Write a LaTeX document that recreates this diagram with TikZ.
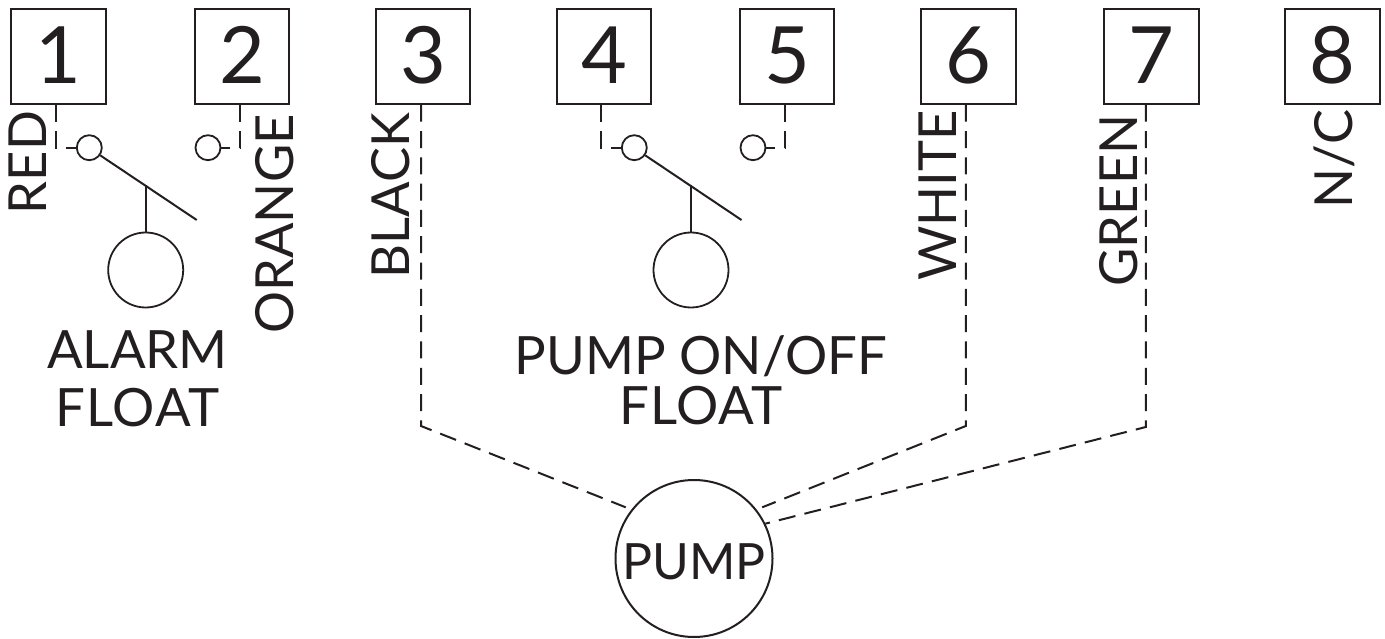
\documentclass[tikz,border=0pt]{standalone}
\usepackage{fontspec}
\setmainfont{Lato}
\definecolor{ink}{HTML}{231F20}
\tikzset{
 x=1pt,y=-1pt,
 every node/.style={text=ink},
 termbox/.style={draw=ink,line width=2pt,minimum size=94.5pt,inner sep=0pt,text depth=3pt,font=\fontsize{79}{79}\selectfont},
 wirelabel/.style={rotate=90,font=\fontsize{52.5}{52.5}\selectfont,inner sep=0pt},
 title/.style={font=\fontsize{52.8}{58}\selectfont,inner sep=0pt},
 contact/.style={circle,draw=ink,line width=1.8pt,minimum size=25pt,inner sep=0pt},
 floatball/.style={circle,draw=ink,line width=1.8pt,minimum size=75pt,inner sep=0pt},
 wire/.style={draw=ink,line width=2pt,dash pattern=on 17pt off 9.3pt},
 solidline/.style={draw=ink,line width=2pt},
}
\begin{document}
\begin{tikzpicture}
\useasboundingbox (0,0) rectangle (1385,639);
\node[termbox] (t1) at (58.7,56.5) {1};
\node[termbox] (t2) at (242,56.5) {2};
\node[termbox] (t3) at (423,56.5) {3};
\node[termbox] (t4) at (604.2,56.5) {4};
\node[termbox] (t5) at (787,56.5) {5};
\node[termbox] (t6) at (968.3,56.5) {6};
\node[termbox] (t7) at (1151.6,56.5) {7};
\node[termbox] (t8) at (1332.5,56.5) {8};
\node[wirelabel] (lred) at (27.5,162.5) {RED};
\node[wirelabel] (lor) at (274.5,224) {ORANGE};
\node[wirelabel] (lbl) at (391,195.5) {BLACK};
\node[wirelabel] (lwh) at (938,195.5) {WHITE};
\node[wirelabel] (lgr) at (1118.5,200.5) {GREEN};
\node[wirelabel] (lnc) at (1334,159) {N/C};
\node[contact] (c1) at (89.3,147.7) {};
\node[contact] (c2) at (208,147.7) {};
\node[contact] (c4) at (634.3,147.7) {};
\node[contact] (c5) at (753,147.7) {};
\node[floatball] (f1) at (145.7,270) {};
\node[floatball] (f2) at (691,270) {};
\coordinate (b1) at (196.7,220);
\coordinate (m1) at (145.7,185);
\coordinate (b2) at (741.5,220);
\coordinate (m2) at (691,185);
\draw[solidline] (c1.-35)--(b1);
\draw[solidline] (m1)--(f1.north);
\draw[solidline] (c4.-35)--(b2);
\draw[solidline] (m2)--(f2.north);
\node[title,align=center] (tf1) at (137.5,379) {ALARM\\{\addfontfeature{LetterSpace=1.8}FLOAT}};
\node[title,align=center] (tf2) at (701,380) {PUMP ON/OFF\\[-8pt]{\addfontfeature{LetterSpace=1.8}FLOAT}};
\node[circle,draw=ink,line width=2pt,minimum size=157pt,inner sep=0pt,text height=42pt,text depth=0pt,font=\fontsize{50}{50}\selectfont] (pump) at (694,558.5) {PUMP};
\coordinate (j1) at (56,147.7);
\coordinate (j2) at (240,147.7);
\coordinate (j4) at (601.3,147.7);
\coordinate (j5) at (785,147.7);
\coordinate (k3) at (421,426);
\coordinate (k6) at (965.8,426);
\coordinate (k7) at (1145.8,427);
\draw[wire] (t1.south -| j1)--(j1)--(c1.west);
\draw[wire] (t2.south -| j2)--(j2)--(c2.east);
\draw[wire] (t4.south -| j4)--(j4)--(c4.west);
\draw[wire] (t5.south -| j5)--(j5)--(c5.east);
\draw[wire,shorten >=6pt] (t3.south -| k3)--(k3)--(pump.142);
\draw[wire,shorten >=6pt] (t6.south -| k6)--(k6)--(pump.38);
\draw[wire] (t7.south -| k7)--(k7)--(pump.26);
\end{tikzpicture}
\end{document}
